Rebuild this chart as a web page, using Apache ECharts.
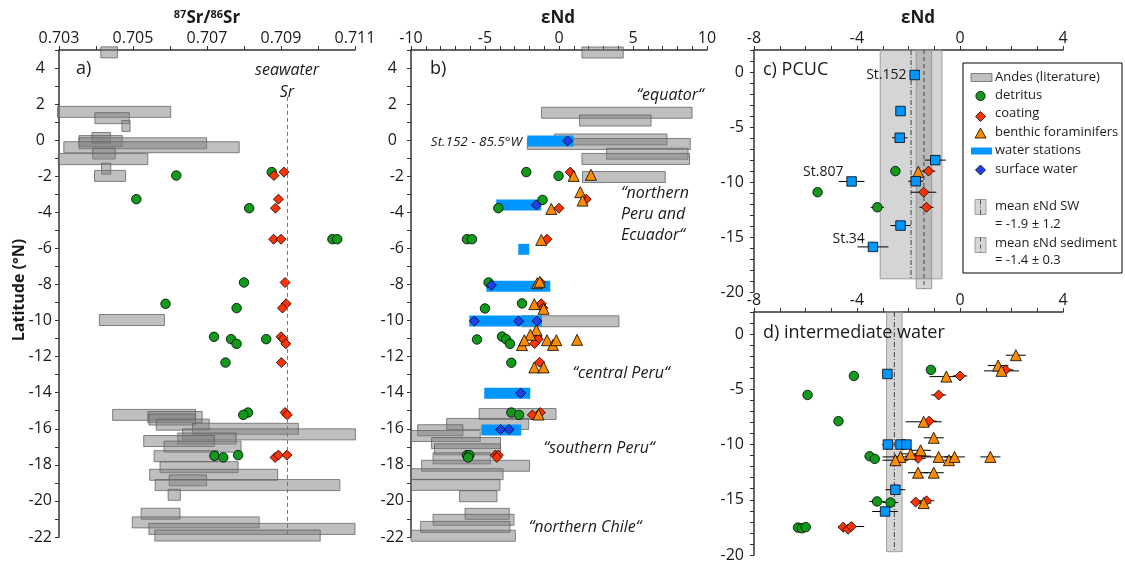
<!DOCTYPE html>
<html><head><meta charset="utf-8">
<script src="https://cdn.jsdelivr.net/npm/echarts@6/dist/echarts.min.js"></script>
<style>html,body{margin:0;padding:0;background:#fff}#c{width:1125px;height:564px}</style>
</head><body><div id="c"></div>
<script>
// ---------- DATA ----------
// Panel a: 87Sr/86Sr  ([xmin, xmax, lat] for literature ranges, [x, lat] for samples)
const srAndes = [[0.70413,0.70458,4.87],[0.70296,0.70602,1.57],[0.70397,0.70490,1.22],[0.70470,0.70492,0.79],[0.70389,0.70439,0.12],[0.70354,0.70471,-0.05],[0.70354,0.70699,-0.17],[0.70313,0.70787,-0.39],[0.70391,0.70452,-0.74],[0.70298,0.70540,-1.05],[0.70415,0.70440,-1.58],[0.70396,0.70480,-1.98],[0.70409,0.70585,-9.97],[0.70445,0.70669,-15.23],[0.70540,0.70687,-15.35],[0.70543,0.70669,-15.49],[0.70563,0.70706,-15.77],[0.70661,0.70947,-16.00],[0.70634,0.71101,-16.31],[0.70621,0.70779,-16.54],[0.70529,0.70720,-16.68],[0.70584,0.70792,-16.99],[0.70557,0.70730,-17.52],[0.70573,0.70784,-18.13],[0.70545,0.70891,-18.55],[0.70598,0.70699,-18.86],[0.70560,0.71059,-19.12],[0.70595,0.70628,-19.66],[0.70522,0.70627,-20.71],[0.70498,0.70841,-21.19],[0.70543,0.71100,-21.55],[0.70559,0.71006,-21.92]];
const srDetritus = [[0.70617,-1.96],[0.70875,-1.77],[0.70509,-3.27],[0.70814,-3.77],[0.71039,-5.49],[0.71052,-5.49],[0.70800,-7.89],[0.70588,-9.07],[0.70780,-9.31],[0.70719,-10.90],[0.70765,-11.03],[0.70780,-11.29],[0.70860,-11.03],[0.70750,-12.33],[0.70811,-15.10],[0.70798,-15.23],[0.70720,-17.50],[0.70744,-17.59],[0.70784,-17.46]];
const srCoating = [[0.70908,-1.77],[0.70881,-1.96],[0.70893,-3.27],[0.70885,-3.77],[0.70880,-5.49],[0.70900,-5.49],[0.70911,-7.89],[0.70914,-9.07],[0.70904,-9.31],[0.70900,-10.90],[0.70906,-11.03],[0.70913,-11.29],[0.70901,-12.33],[0.70911,-15.10],[0.70917,-15.23],[0.70884,-17.59],[0.70893,-17.46],[0.70916,-17.46]];
const seawaterSr = 0.70917;

// Panel b: eNd
const ndAndes = [[1.55,4.34,4.86],[-1.18,8.99,1.52],[1.39,6.22,1.09],[-0.30,7.30,0.04],[-2.14,8.87,-0.21],[3.22,8.72,-0.75],[1.55,8.82,-1.04],[1.59,7.18,-2.04],[-2.5,4.05,-10.04],[-5.39,-0.20,-15.18],[-7.59,-2.05,-15.73],[-9.55,-6.49,-16.08],[-10.0,-5.32,-16.40],[-8.61,-3.95,-16.79],[-8.41,-3.95,-17.14],[-8.51,-4.64,-17.64],[-9.28,-1.99,-18.05],[-10.0,-3.78,-18.52],[-10.0,-3.99,-19.11],[-6.72,-4.19,-19.74],[-6.35,-3.36,-20.72],[-8.51,-3.04,-21.05],[-9.35,-3.31,-21.44],[-10.0,-2.95,-21.93]];
const ndWater = [[-2.14,0.99,-0.05],[-4.24,-1.20,-3.60],[-2.75,-2.01,-6.05],[-4.91,-0.59,-8.10],[-6.06,-1.15,-10.03],[-5.05,-1.94,-14.03],[-5.25,-2.55,-16.07]];
const ndSurface = [[0.58,-0.04],[-1.53,-3.59],[-4.57,-8.04],[-5.72,-10.03],[-2.73,-10.03],[-1.49,-10.03],[-2.59,-14.03],[-3.95,-16.04],[-3.38,-16.04]];
const ndDetritus = [[-2.21,-1.77],[-0.03,-1.98],[-1.11,-3.31],[-4.10,-3.77],[-6.22,-5.49],[-5.88,-5.49],[-4.76,-7.89],[-2.50,-9.05],[-5.00,-9.33],[-5.54,-11.05],[-3.85,-10.89],[-3.58,-11.03],[-3.31,-11.29],[-3.22,-12.34],[-3.22,-15.10],[-2.70,-15.23],[-6.22,-17.46],[-6.06,-17.46],[-6.14,-17.59]];
const ndCoating = [[0.76,-1.77],[1.84,-3.27],[0.00,-3.77],[-0.81,-5.49],[-1.24,-7.89],[-1.20,-9.07],[-1.08,-9.31],[-1.49,-10.90],[-1.60,-11.03],[-1.40,-11.03],[-1.65,-11.27],[-1.31,-12.31],[-1.26,-15.10],[-1.80,-15.23],[-4.30,-17.46],[-4.10,-17.46],[-4.20,-17.59]];
const ndForam = [[0.99,-1.98],[2.16,-1.92],[1.44,-2.88],[1.59,-3.35],[-0.52,-3.81],[-1.20,-5.53],[-1.47,-7.93],[-1.30,-7.85],[-1.67,-9.09],[-1.04,-9.35],[-1.53,-10.52],[-1.94,-10.79],[-2.50,-11.36],[-2.34,-11.09],[-0.81,-11.09],[-0.41,-11.35],[-0.18,-11.09],[1.22,-11.07],[-1.67,-12.60],[-1.04,-12.60],[-1.38,-15.21]];

// Panel c: PCUC  ([eNd, lat, error])
const pcucWater = [[-1.76,-0.27,0],[-2.31,-3.55,0],[-2.34,-5.98,0.3],[-0.96,-8.01,0.41],[-1.72,-9.93,0.29],[-4.21,-9.95,0.5],[-2.31,-13.96,0.39],[-3.38,-15.9,0.6]];
const pcucStations = ['St.152','','','','','St.807','','St.34'];
const pcucDetritus = [[-2.51,-9.01,0],[-5.53,-10.93,0],[-3.21,-12.3,0.26]];
const pcucCoating = [[-1.22,-9.01,0.26],[-1.41,-10.93,0.49],[-1.30,-12.3,0.27]];
const pcucForam = [[-1.62,-9.07,0]];
const swMean = -1.9, swSd = 1.2, swBottom = -18.8;
const sedMean = -1.4, sedSd = 0.3, sedBottom = -19.7;

// Panel d: intermediate water
const iwWater = [[-2.82,-3.61,0],[-2.80,-10.0,0.22],[-2.31,-10.0,0.15],[-2.08,-10.0,0.15],[-2.51,-14.09,0.39],[-2.91,-16.06,0.5]];
const iwDetritus = [[-1.13,-3.24,0],[-4.12,-3.79,0],[-5.92,-5.51,0],[-4.72,-7.88,0],[-3.51,-11.06,0],[-3.31,-11.30,0],[-3.22,-15.15,0.3],[-2.70,-15.25,0.3],[-6.29,-17.52,0],[-6.14,-17.58,0],[-5.99,-17.48,0]];
const iwCoating = [[1.77,-3.24,0.3],[0.0,-3.79,0.28],[-0.83,-5.51,0.29],[-1.20,-7.88,0.3],[-1.63,-11.05,0.5],[-1.63,-11.25,0.3],[-1.72,-15.21,0.2],[-1.30,-15.09,0.3],[-4.54,-17.48,0],[-4.35,-17.67,0],[-4.22,-17.42,0.5]];
const iwForam = [[2.17,-1.91,0.39],[1.48,-2.85,0.4],[1.61,-3.33,0.68],[-0.53,-3.85,0.65],[-1.41,-7.94,0.7],[-1.02,-9.39,0.39],[-1.53,-10.52,0.4],[-1.91,-10.85,0.4],[-2.31,-11.12,0.7],[-2.51,-11.42,0.5],[-0.83,-11.12,0.6],[-0.43,-11.42,0.4],[-0.21,-11.12,0.4],[1.18,-11.12,0.39],[-1.63,-12.55,0.39],[-1.02,-12.55,0.39],[-1.41,-15.30,0.3]];
const iwMean = -2.55, iwSd = 0.3, iwBottom = -19.7;

// ---------- STYLE ----------
const FONT = 'Open Sans', TXT = '#1a1a1a', AX = '#333';
const C_GREEN = '#10991a', C_RED = '#ff3300', C_ORANGE = '#ff8c00', C_BLUE = '#0096ff', C_SURF = '#2040ee';
const BOX_FILL = 'rgba(128,128,128,0.5)', BOX_STROKE = 'rgba(95,95,95,0.75)';

const chart = echarts.init(document.getElementById('c'), null, {renderer:'canvas'});

function xAx(g, min, max, interval, fmt) {
  return {gridIndex:g, type:'value', position:'top', min, max, interval,
    axisLine:{show:true, onZero:false, lineStyle:{color:AX, width:1.5}},
    axisTick:{show:true, length:4, lineStyle:{color:AX, width:1}},
    splitLine:{show:false},
    axisLabel:{show:true, margin:4, formatter:fmt, fontFamily:FONT, fontSize:16, color:TXT}};
}
function yAx(g, min, max, fmt, margin, rich) {
  return {gridIndex:g, type:'value', min, max, interval:1,
    axisLine:{show:true, onZero:false, lineStyle:{color:AX, width:1.5}},
    axisTick:{show:true, length:4, lineStyle:{color:AX, width:1}},
    splitLine:{show:false},
    axisLabel:{show:true, margin, formatter:fmt, fontFamily:FONT, fontSize:16, color:TXT, rich}};
}
const fmtLatAB = v => (v % 2 === 0 && v <= 4) ? (v >= 0 ? '{p|' + v + '}' : String(v)) : '';
const richAB = {p:{fontFamily:FONT, fontSize:16, color:TXT, padding:[0,7,0,0]}};
const fmtLatCD = v => (v % 5 === 0 && v <= 0) ? String(v) : '';

function boxRender(fill, stroke) {
  return function(params, api) {
    const p0 = api.coord([api.value(0), api.value(2)]);
    const p1 = api.coord([api.value(1), api.value(2)]);
    const h = 11;
    return {type:'rect', shape:{x:p0[0], y:p0[1]-h/2, width:p1[0]-p0[0], height:h},
      style:{fill, stroke, lineWidth: stroke ? 1 : 0}};
  };
}
function errRender(params, api) {
  const e = api.value(2);
  if (!e) return null;
  const a = api.coord([api.value(0)-e, api.value(1)]);
  const b = api.coord([api.value(0)+e, api.value(1)]);
  return {type:'line', shape:{x1:a[0], y1:a[1], x2:b[0], y2:b[1]}, style:{stroke:'#000', lineWidth:1}};
}
function bandRender(dash) {
  return function(params, api) {
    const m = api.value(0), s = api.value(1), top = api.value(2), bot = api.value(3);
    const a = api.coord([m-s, top]), b = api.coord([m+s, bot]);
    const c1 = api.coord([m, top]), c2 = api.coord([m, bot]);
    return {type:'group', children:[
      {type:'rect', shape:{x:a[0], y:a[1], width:b[0]-a[0], height:b[1]-a[1]},
        style:{fill:'rgba(128,128,128,0.33)', stroke:'rgba(150,150,150,0.9)', lineWidth:1}},
      {type:'line', shape:{x1:c1[0], y1:c1[1], x2:c2[0], y2:c2[1]},
        style:{stroke:'#444', lineWidth:1, lineDash:dash}}
    ]};
  };
}
function boxes(g, data, fill, stroke, z) {
  return {type:'custom', xAxisIndex:g, yAxisIndex:g, coordinateSystem:'cartesian2d', clip:false, z,
    renderItem:boxRender(fill, stroke), encode:{x:[0,1], y:2}, data, silent:true};
}
function errs(g, data) {
  return {type:'custom', xAxisIndex:g, yAxisIndex:g, coordinateSystem:'cartesian2d', z:3,
    renderItem:errRender, encode:{x:0, y:1}, data, silent:true};
}
function band(g, mean, sd, bottom, dash) {
  return {type:'custom', xAxisIndex:g, yAxisIndex:g, coordinateSystem:'cartesian2d', z:1,
    renderItem:bandRender(dash), encode:{x:0, y:[2,3]}, data:[[mean, sd, 2, bottom]], silent:true};
}
function pts(g, data, symbol, size, color) {
  return {type:'scatter', xAxisIndex:g, yAxisIndex:g, symbol, symbolSize:size, z:4,
    itemStyle:{color, borderColor:'#000', borderWidth:0.8, opacity:1}, data, silent:true};
}
const stationOffset = {'St.152':[0,0], 'St.807':[0,-9], 'St.34':[0,-8]};
const pcucWaterItems = pcucWater.map((d, i) => {
  const n = pcucStations[i];
  return n ? {value:d, label:{show:true, formatter:n, position:'left', distance:3, offset:stationOffset[n],
    fontFamily:FONT, fontSize:14, color:TXT}} : {value:d};
});

const series = [
  // panel a
  boxes(0, srAndes, BOX_FILL, BOX_STROKE, 2),
  pts(0, srDetritus, 'circle', 9.5, C_GREEN),
  Object.assign(pts(0, srCoating, 'diamond', 10, C_RED), {
    markLine:{silent:true, symbol:['none','none'], label:{show:false},
      lineStyle:{color:'#777', type:[4,3], width:1},
      data:[[{coord:[seawaterSr, 2.4]}, {coord:[seawaterSr, -22]}]]}}),
  // panel b
  boxes(1, ndAndes, BOX_FILL, BOX_STROKE, 2),
  boxes(1, ndWater, C_BLUE, null, 3),
  pts(1, ndDetritus, 'circle', 9.5, C_GREEN),
  pts(1, ndCoating, 'diamond', 10, C_RED),
  pts(1, ndForam, 'triangle', 11, C_ORANGE),
  pts(1, ndSurface, 'diamond', 10, C_SURF),
  // panel c
  band(2, swMean, swSd, swBottom, [5,2,1,2]),
  band(2, sedMean, sedSd, sedBottom, [4,3]),
  errs(2, pcucWater), errs(2, pcucDetritus), errs(2, pcucCoating), errs(2, pcucForam),
  pts(2, pcucDetritus, 'circle', 9.5, C_GREEN),
  pts(2, pcucCoating, 'diamond', 10, C_RED),
  pts(2, pcucForam, 'triangle', 11, C_ORANGE),
  pts(2, pcucWaterItems, 'rect', 9.5, C_BLUE),
  // panel d
  band(3, iwMean, iwSd, iwBottom, [5,2,1,2]),
  errs(3, iwWater), errs(3, iwDetritus), errs(3, iwCoating), errs(3, iwForam),
  pts(3, iwDetritus, 'circle', 9.5, C_GREEN),
  pts(3, iwCoating, 'diamond', 10, C_RED),
  pts(3, iwForam, 'triangle', 11, C_ORANGE),
  pts(3, iwWater, 'rect', 9.5, C_BLUE)
];

function txt(x, y, text, o) {
  o = o || {};
  return {type:'text', x, y, z:100, silent:true, rotation:o.rot || 0,
    style:{text, fill:TXT, fontFamily:FONT, fontSize:o.size || 16, fontWeight:o.bold ? 'bold' : 'normal',
      fontStyle:o.italic ? 'italic' : 'normal',
      align:o.align || 'left', verticalAlign:'middle', textAlign:o.align || 'left', textVerticalAlign:'middle',
      rich:o.rich}};
}
const LX = 980.5;
const legendFont = 13;
const graphic = [
  // axis titles
  txt(207, 18, '{s|87}Sr/{s|86}Sr', {bold:true, size:17, align:'center',
    rich:{s:{fontFamily:FONT, fontSize:11, fontWeight:'bold', fill:TXT, color:TXT, padding:[0,0,7,0]}}}),
  txt(558, 18, 'εNd', {bold:true, size:17, align:'center'}),
  txt(918, 18, 'εNd', {bold:true, size:17, align:'center'}),
  txt(19, 290, 'Latitude (°N)', {bold:true, size:16, align:'center', rot:Math.PI/2}),
  // panel labels
  txt(76, 69, 'a)', {size:18}),
  txt(430, 69, 'b)', {size:18}),
  txt(763, 70, 'c) PCUC', {size:18}),
  txt(763, 333, 'd) intermediate water', {size:18}),
  // panel a annotations
  txt(287, 70, 'seawater', {italic:true, align:'center'}),
  txt(287, 92, 'Sr', {italic:true, align:'center'}),
  // panel b annotations
  txt(670, 95, '“equator“', {italic:true, align:'center'}),
  txt(522, 142, 'St.152 - 85.5°W', {italic:true, align:'right', size:13.5}),
  txt(621, 193, '“northern', {italic:true}),
  txt(621, 214, 'Peru and', {italic:true}),
  txt(621, 235, 'Ecuador“', {italic:true}),
  txt(621, 373, '“central Peru“', {italic:true, align:'center'}),
  txt(599, 448, '“southern Peru“', {italic:true, align:'center'}),
  txt(585, 527, '“northern Chile“', {italic:true, align:'center'}),
  // legend
  {type:'rect', z:90, silent:true, shape:{x:963, y:63, width:159, height:210}, style:{fill:'#fff', stroke:'#000', lineWidth:1}},
  {type:'rect', z:95, silent:true, shape:{x:971, y:73.5, width:21, height:8}, style:{fill:BOX_FILL, stroke:BOX_STROKE, lineWidth:1}},
  {type:'circle', z:95, silent:true, shape:{cx:LX, cy:96, r:4.6}, style:{fill:C_GREEN, stroke:'#000', lineWidth:0.8}},
  {type:'polygon', z:95, silent:true, shape:{points:[[LX,111.5],[LX+5,116.5],[LX,121.5],[LX-5,116.5]]}, style:{fill:C_RED, stroke:'#000', lineWidth:0.8}},
  {type:'polygon', z:95, silent:true, shape:{points:[[LX,128],[LX+5.5,138],[LX-5.5,138]]}, style:{fill:C_ORANGE, stroke:'#000', lineWidth:0.8}},
  {type:'rect', z:95, silent:true, shape:{x:971, y:147.5, width:21, height:7}, style:{fill:C_BLUE}},
  {type:'polygon', z:95, silent:true, shape:{points:[[LX,165],[LX+5,170],[LX,175],[LX-5,170]]}, style:{fill:C_SURF, stroke:'#000', lineWidth:0.8}},
  {type:'rect', z:95, silent:true, shape:{x:975, y:199.5, width:11, height:15}, style:{fill:'rgba(128,128,128,0.33)', stroke:'rgba(150,150,150,0.9)', lineWidth:1}},
  {type:'line', z:96, silent:true, shape:{x1:LX, y1:199.5, x2:LX, y2:214.5}, style:{stroke:'#555', lineWidth:1, lineDash:[5,2,1,2]}},
  {type:'rect', z:95, silent:true, shape:{x:975, y:237.5, width:11, height:15}, style:{fill:'rgba(128,128,128,0.33)', stroke:'rgba(150,150,150,0.9)', lineWidth:1}},
  {type:'line', z:96, silent:true, shape:{x1:LX, y1:237.5, x2:LX, y2:252.5}, style:{stroke:'#555', lineWidth:1, lineDash:[4,3]}},
  txt(995, 77.5, 'Andes (literature)', {size:legendFont}),
  txt(995, 95.5, 'detritus', {size:legendFont}),
  txt(995, 113.5, 'coating', {size:legendFont}),
  txt(995, 132, 'benthic foraminifers', {size:legendFont}),
  txt(995, 150.5, 'water stations', {size:legendFont}),
  txt(995, 169, 'surface water', {size:legendFont}),
  txt(995, 206.5, 'mean εNd SW', {size:legendFont}),
  txt(995, 224, '= -1.9 ± 1.2', {size:legendFont}),
  txt(995, 243, 'mean εNd sediment', {size:legendFont}),
  txt(995, 260.5, '= -1.4 ± 0.3', {size:legendFont})
];

const option = {
  animation:false,
  backgroundColor:'#fff',
  grid:[
    {left:59, top:50, width:296, height:487},
    {left:411, top:50, width:296, height:487},
    {left:754, top:50, width:309, height:242},
    {left:754, top:312, width:309, height:243}
  ],
  xAxis:[
    xAx(0, 0.703, 0.711, 0.001, v => (Math.round(v*1000) % 2 === 1) ? v.toFixed(3) : ''),
    xAx(1, -10, 10, 1, v => (v % 5 === 0) ? String(v) : ''),
    xAx(2, -8, 4, 1, v => (v % 4 === 0) ? String(v) : ''),
    xAx(3, -8, 4, 1, v => (v % 4 === 0) ? String(v) : '')
  ],
  yAxis:[
    yAx(0, -22, 5, fmtLatAB, 7, richAB),
    yAx(1, -22, 5, fmtLatAB, 7, richAB),
    yAx(2, -20, 2, fmtLatCD, 10),
    yAx(3, -20, 2, fmtLatCD, 10)
  ],
  series,
  graphic
};
chart.setOption(option);
</script></body></html>
